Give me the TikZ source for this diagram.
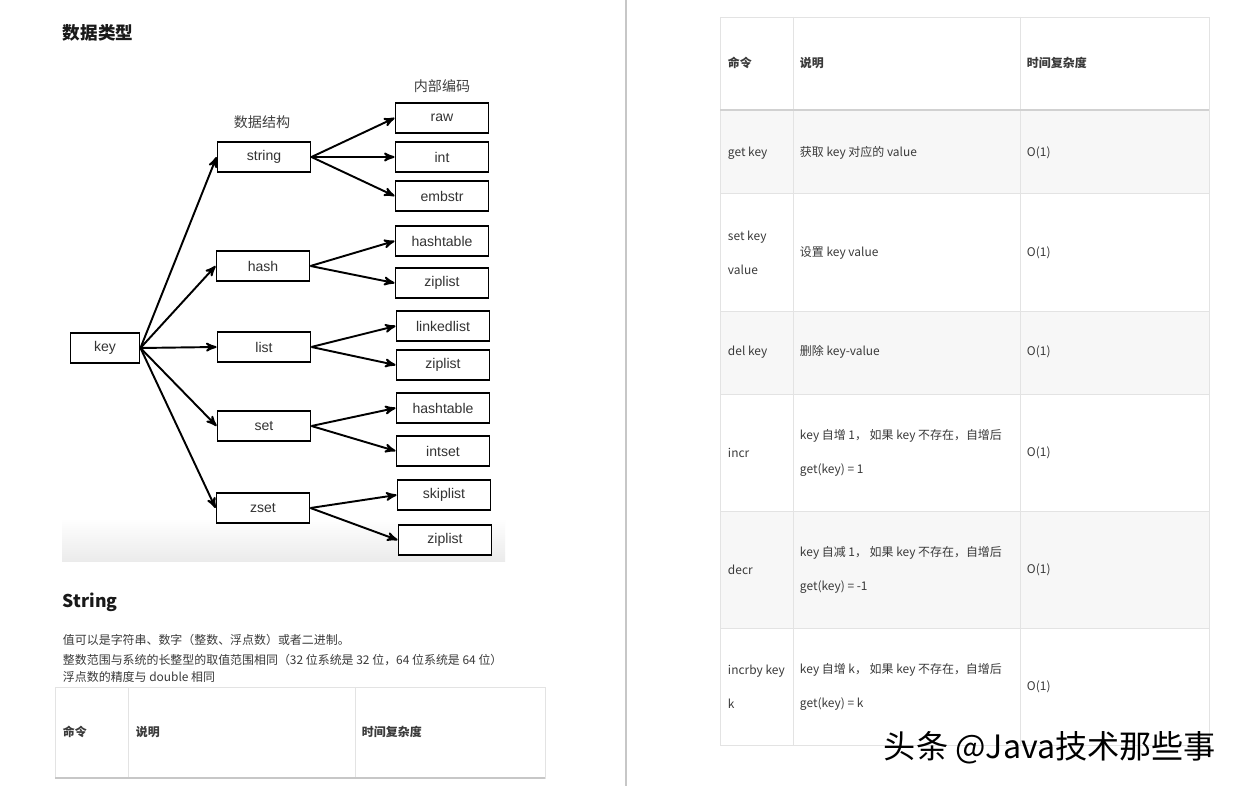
\documentclass[tikz,border=0pt]{standalone}
\usepackage{fontspec}
\setmainfont{Noto Sans CJK SC}
\newfontfamily\boxfont{Liberation Sans}
\usepackage{xcolor}
\usetikzlibrary{arrows, positioning}

\definecolor{rulegray}{HTML}{E3E3E3}
\definecolor{rowgray}{HTML}{F7F7F7}
\definecolor{txtgray}{HTML}{3A3A3A}

\begin{document}
\begin{tikzpicture}[x=0.02cm,y=-0.02cm,>=stealth',line width=1.1pt,
    box/.style={draw,fill=white,rectangle,minimum width=1.86cm,minimum height=0.6cm,
        font=\boxfont\fontsize{8}{9}\selectfont,text=black!80},
    head/.style={font=\fontsize{8}{9}\selectfont,text=black!75},
    cell/.style={anchor=west,align=left,inner sep=0pt,font=\fontsize{6.8}{19.3}\selectfont,text=txtgray},
    cellhead/.style={cell,font=\bfseries\fontsize{6.8}{8}\selectfont},
    title/.style={anchor=west,inner sep=0pt,font=\bfseries\fontsize{10}{12}\selectfont,text=black!90}]
    \useasboundingbox (0,0) rectangle (1240,786);
    \fill[white] (0,0) rectangle (1240,786);

    % page divider
    \draw[black!22,line width=1.2pt] (626,0) -- (626,786);

    % left page
    \node[title] (ttype) at (62,33) {数据类型};
    \shade[top color=white,bottom color=black!8] (62,518) rectangle (505,562);

    \node[box,minimum width=1.38cm] (key) at (105,348) {key};
    \node[box] (string) at (264,157) {string};
    \node[box] (hash) at (263,266) {hash};
    \node[box] (list) at (264,347) {list};
    \node[box] (set) at (264,426) {set};
    \node[box] (zset) at (263,508) {zset};

    \node[box] (raw) at (442,118) {raw};
    \node[box] (int) at (442,157) {int};
    \node[box] (embstr) at (442,196) {embstr};
    \node[box] (hashtableA) at (442,241) {hashtable};
    \node[box] (ziplistA) at (442,283) {ziplist};
    \node[box] (linkedlist) at (443,326) {linkedlist};
    \node[box] (ziplistB) at (443,365) {ziplist};
    \node[box] (hashtableB) at (443,408) {hashtable};
    \node[box] (intset) at (443,451) {intset};
    \node[box] (skiplist) at (444,495) {skiplist};
    \node[box] (ziplistC) at (445,540) {ziplist};

    \node[head] (lstruct) at (262,122) {数据结构};
    \node[head] (lenc) at (442,86) {内部编码};

    \path[->] (key.east) edge (string.west)
              (key.east) edge (hash.west)
              (key.east) edge (list.west)
              (key.east) edge (set.west)
              (key.east) edge (zset.west);
    \path[->] (string.east) edge (raw.west)
              (string.east) edge (int.west)
              (string.east) edge (embstr.west)
              (hash.east) edge (hashtableA.west)
              (hash.east) edge (ziplistA.west)
              (list.east) edge (linkedlist.west)
              (list.east) edge (ziplistB.west)
              (set.east) edge (hashtableB.west)
              (set.east) edge (intset.west)
              (zset.east) edge (skiplist.west)
              (zset.east) edge (ziplistC.west);

    \node[title] (tstring) at (62,602) {String};
    \node[cell] (pone) at (62,640) {值可以是字符串、数字（整数、浮点数）或者二进制。};
    \node[cell] (ptwo) at (62,660) {整数范围与系统的长整型的取值范围相同（32 位系统是 32 位，64 位系统是 64 位）};
    \node[cell] (pthree) at (62,677) {浮点数的精度与 double 相同};

    % left table header
    \draw[rulegray,thin] (55,687) rectangle (545,778);
    \draw[rulegray,thin] (128,687) -- (128,778) (355,687) -- (355,778);
    \draw[black!22,line width=1pt] (55,778) -- (545,778);
    \node[cellhead] at (62,732) {命令};
    \node[cellhead] at (135,732) {说明};
    \node[cellhead] at (361,732) {时间复杂度};

    % right table
    \fill[rowgray] (720,110) rectangle (1209,193);
    \fill[rowgray] (720,311) rectangle (1209,394);
    \fill[rowgray] (720,511) rectangle (1209,628);
    \draw[rulegray,thin] (720,17) rectangle (1209,745);
    \draw[rulegray,thin] (793,17) -- (793,745) (1020,17) -- (1020,745);
    \foreach \yrow in {193,311,394,511,628}
        \draw[rulegray,thin] (720,\yrow) -- (1209,\yrow);
    \draw[black!18,line width=1pt] (720,110) -- (1209,110);

    \node[cellhead] at (727,63) {命令};
    \node[cellhead] at (799,63) {说明};
    \node[cellhead] at (1026,63) {时间复杂度};

    \node[cell] at (727,153) {get key};
    \node[cell] at (799,153) {获取 key 对应的 value};
    \node[cell] at (1026,153) {O(1)};

    \node[cell] at (727,253) {set key\\value};
    \node[cell] at (799,253) {设置 key value};
    \node[cell] at (1026,253) {O(1)};

    \node[cell] at (727,352) {del key};
    \node[cell] at (799,352) {删除 key-value};
    \node[cell] at (1026,352) {O(1)};

    \node[cell] at (727,453) {incr};
    \node[cell] at (799,453) {key 自增 1，  如果 key 不存在，自增后\\get(key) = 1};
    \node[cell] at (1026,453) {O(1)};

    \node[cell] at (727,570) {decr};
    \node[cell] at (799,570) {key 自减 1，  如果 key 不存在，自增后\\get(key) = -1};
    \node[cell] at (1026,570) {O(1)};

    \node[cell] at (727,687) {incrby key\\k};
    \node[cell] at (799,687) {key 自增 k，  如果 key 不存在，自增后\\get(key) = k};
    \node[cell] at (1026,687) {O(1)};

    % watermark
    \node[anchor=west,inner sep=0pt,font=\fontsize{18.3}{20}\selectfont,text=black] (mark) at (883,748) {头条 @Java技术那些事};
\end{tikzpicture}
\end{document}
